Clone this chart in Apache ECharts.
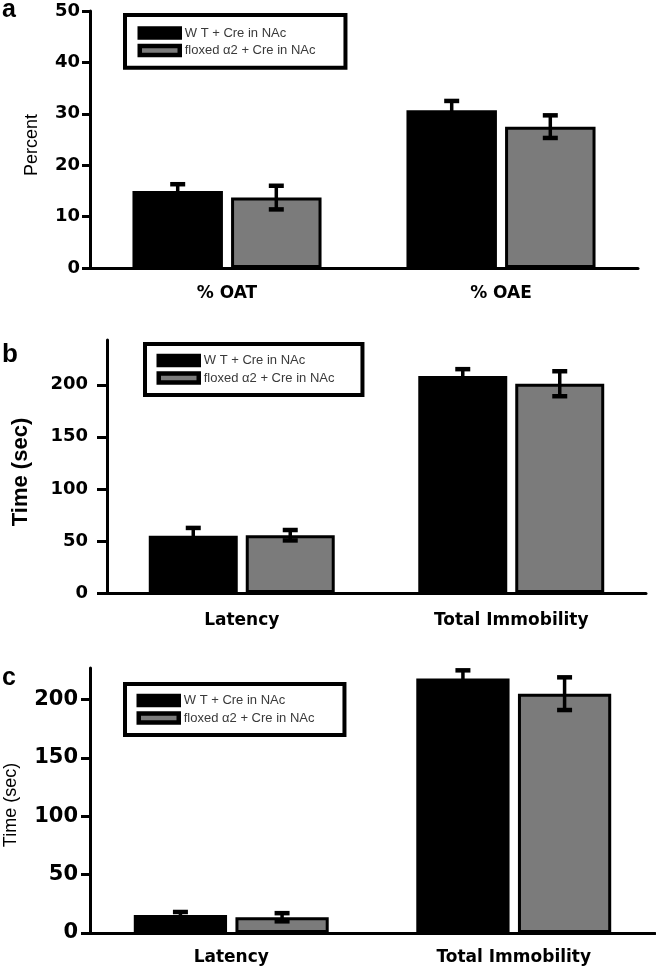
<!DOCTYPE html>
<html>
<head>
<meta charset="utf-8">
<script src="https://cdn.jsdelivr.net/npm/echarts@6/dist/echarts.min.js"></script>
<style>
html,body{margin:0;padding:0;background:#fff;}
#chart{width:656px;height:968px;}
</style>
</head>
<body>
<div id="chart"></div>
<script>
// ---- data ----
const seriesNames = ['W T + Cre in NAc', 'floxed \u03b12 + Cre in NAc'];

const catsA = ['% OAT', '% OAE'];
const wtA = [15.0, 30.7];
const wtErrA = [1.3, 1.8];
const flA = [13.7, 27.5];
const flErrA = [2.3, 2.2];
const ticksA = [0, 10, 20, 30, 40, 50];

const catsB = ['Latency', 'Total Immobility'];
const wtB = [55.0, 208.5];
const wtErrB = [7.5, 6.5];
const flB = [55.5, 201.0];
const flErrB = [5.0, 12.0];
const ticksB = [0, 50, 100, 150, 200];

const catsC = ['Latency', 'Total Immobility'];
const wtC = [15.5, 218.0];
const wtErrC = [2.5, 7.0];
const flC = [13.5, 205.0];
const flErrC = [3.5, 14.0];
const ticksC = [0, 50, 100, 150, 200];

const panelLabels = ['a', 'b', 'c'];
const yTitles = ['Percent', 'Time (sec)', 'Time (sec)'];

// ---- styling / layout ----
const CAT_GAP = 0.31, BAR_GAP = 0.09;
const GREY = '#7b7b7b';

const panels = [
  {cats: catsA, wt: wtA, wtE: wtErrA, fl: flA, flE: flErrA, ticks: ticksA, max: 50,
   grid: {left: 90, right: 18, top: 11, bottom: 700}, labelSize: 18, labelMargin: 10, tickLen: 8, xLabelMargin: 17,
   legend: {left: 125, top: 15, padding: [10.5, 30, 9.7, 12.5]}},
  {cats: catsB, wt: wtB, wtE: wtErrB, fl: flB, flE: flErrB, ticks: ticksB, max: 243,
   grid: {left: 107, right: 10, top: 340, bottom: 375}, labelSize: 18, labelMargin: 19, tickLen: 10, xLabelMargin: 19,
   legend: {left: 145, top: 344, padding: [9, 28, 9.5, 11.5]}},
  {cats: catsC, wt: wtC, wtE: wtErrC, fl: flC, flE: flErrC, ticks: ticksC, max: 227,
   grid: {left: 90, right: 1, top: 668, bottom: 35}, labelSize: 21, labelMargin: 12, tickLen: 9, xLabelMargin: 16,
   legend: {left: 125, top: 684, padding: [9, 30, 9.5, 11.5]}}
];

const grids = [], xAxes = [], yAxes = [], series = [], legends = [];

function errRender(params, api) {
  const cat = api.value(0), mean = api.value(1), err = api.value(2), g = api.value(3);
  const catW = api.size([1, 0])[0];
  const bandW = catW * (1 - CAT_GAP);
  const barW = bandW / (2 + BAR_GAP);
  const cx = api.coord([cat, 0])[0] - bandW / 2 + barW / 2 + g * barW * (1 + BAR_GAP);
  const yHi = api.coord([cat, mean + err])[1];
  const yLo = api.coord([cat, mean - err])[1];
  const half = 7.5;
  const stem = {stroke: '#000', lineWidth: 3.5};
  const cap = {stroke: '#000', lineWidth: 4.5};
  return {
    type: 'group',
    children: [
      {type: 'line', shape: {x1: cx, y1: yHi, x2: cx, y2: yLo}, style: stem},
      {type: 'line', shape: {x1: cx - half, y1: yHi, x2: cx + half, y2: yHi}, style: cap},
      {type: 'line', shape: {x1: cx - half, y1: yLo, x2: cx + half, y2: yLo}, style: cap}
    ]
  };
}

panels.forEach((p, i) => {
  grids.push(Object.assign({containLabel: false}, p.grid));
  xAxes.push({
    type: 'category', gridIndex: i, data: p.cats,
    axisLine: {lineStyle: {color: '#000', width: 3}},
    axisTick: {alignWithLabel: true, length: 6, lineStyle: {color: '#000', width: 2}},
    axisLabel: {color: '#000', fontFamily: 'DejaVu Sans', fontWeight: 'bold', fontSize: 17, margin: p.xLabelMargin},
    splitLine: {show: false}
  });
  yAxes.push({
    type: 'value', gridIndex: i, min: 0, max: p.max,
    axisLine: {show: true, lineStyle: {color: '#000', width: 3}},
    axisTick: {show: true, length: p.tickLen, customValues: p.ticks, lineStyle: {color: '#000', width: 3}},
    axisLabel: {color: '#000', fontFamily: 'DejaVu Sans', fontWeight: 'bold', fontSize: p.labelSize,
                margin: p.labelMargin, customValues: p.ticks},
    splitLine: {show: false}
  });
  const groups = [[p.wt, p.wtE, '#000'], [p.fl, p.flE, GREY]];
  groups.forEach((gr, g) => {
    series.push({
      type: 'bar', name: seriesNames[g], xAxisIndex: i, yAxisIndex: i,
      data: gr[0],
      barCategoryGap: (CAT_GAP * 100) + '%', barGap: (BAR_GAP * 100) + '%',
      itemStyle: {color: gr[2], borderColor: '#000', borderWidth: 3},
      z: 2
    });
  });
  const errData = [];
  groups.forEach((gr, g) => {
    gr[0].forEach((v, k) => errData.push([k, v, gr[1][k], g]));
  });
  series.push({
    type: 'custom', xAxisIndex: i, yAxisIndex: i, data: errData,
    encode: {x: 0, y: 1}, renderItem: errRender, z: 5, silent: true
  });
  legends.push({
    data: seriesNames, orient: 'vertical',
    left: p.legend.left, top: p.legend.top, padding: p.legend.padding,
    borderColor: '#000', borderWidth: 4, backgroundColor: '#fff',
    icon: 'rect', itemWidth: 40, itemHeight: 9, itemGap: 2.5,
    itemStyle: {borderColor: '#000', borderWidth: 4.5},
    textStyle: {color: '#3a3a3a', fontFamily: 'Liberation Sans', fontSize: 13, lineHeight: 15},
    selectedMode: false
  });
});

const graphics = [
  {type: 'text', x: 2, y: 10, style: {text: panelLabels[0], font: 'bold 25px "Liberation Sans"', fill: '#000', textVerticalAlign: 'middle'}},
  {type: 'text', x: 2, y: 355, style: {text: panelLabels[1], font: 'bold 26px "Liberation Sans"', fill: '#000', textVerticalAlign: 'middle'}},
  {type: 'text', x: 2, y: 678, style: {text: panelLabels[2], font: 'bold 25px "Liberation Sans"', fill: '#000', textVerticalAlign: 'middle'}},
  {type: 'text', x: 32, y: 145, rotation: Math.PI / 2,
   style: {text: yTitles[0], font: '18px "Liberation Sans"', fill: '#000', textAlign: 'center', textVerticalAlign: 'middle'}},
  {type: 'text', x: 21, y: 472, rotation: Math.PI / 2,
   style: {text: yTitles[1], font: 'bold 22px "Liberation Sans"', fill: '#000', textAlign: 'center', textVerticalAlign: 'middle'}},
  {type: 'text', x: 11, y: 805, rotation: Math.PI / 2,
   style: {text: yTitles[2], font: '18px "Liberation Sans"', fill: '#000', textAlign: 'center', textVerticalAlign: 'middle'}}
];

const chart = echarts.init(document.getElementById('chart'), null, {renderer: 'canvas'});
chart.setOption({
  animation: false,
  backgroundColor: '#fff',
  grid: grids,
  xAxis: xAxes,
  yAxis: yAxes,
  legend: legends,
  series: series,
  graphic: graphics
});
</script>
</body>
</html>
